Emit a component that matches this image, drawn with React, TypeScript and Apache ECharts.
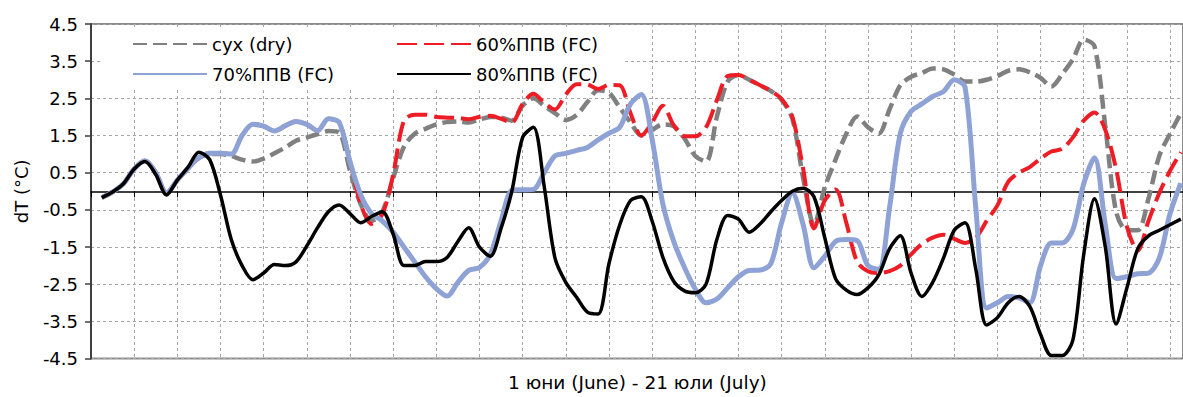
import React, { useEffect, useRef } from "react";
import * as echarts from "echarts";

const FONT = '"DejaVu Sans", "Liberation Sans", sans-serif';

const days = [
  0.5, 1, 1.5, 2, 2.5, 3, 3.5, 4, 4.5, 5, 5.5, 6, 6.5, 7, 7.5, 8, 8.5, 9, 9.5, 10,
  10.5, 11, 11.5, 12, 12.5, 13, 13.5, 14, 14.5, 15, 15.5, 16, 16.5, 17, 17.5, 18, 18.5, 19, 19.5, 20,
  20.5, 21, 21.5, 22, 22.5, 23, 23.5, 24, 24.5, 25, 25.5, 26, 26.5, 27, 27.5, 28, 28.5, 29, 29.5, 30,
  30.5, 31, 31.5, 32, 32.5, 33, 33.5, 34, 34.5, 35, 35.5, 36, 36.5, 37, 37.5, 38, 38.5, 39, 39.5, 40,
  40.5, 41, 41.5, 42, 42.5, 43, 43.5, 44, 44.5, 45, 45.5, 46, 46.5, 47, 47.5, 48, 48.5, 49, 49.5, 50,
  50.5,
];

const dry = [
  -0.17, -0.02, 0.2, 0.6, 0.82, 0.5, -0.05, 0.3, 0.62, 0.9, 1.0, 1.0, 0.95, 0.85, 0.8, 0.88, 1.02, 1.18, 1.36, 1.45,
  1.54, 1.62, 1.58, 0.55, -0.35, -0.8, -0.55, 0.35, 1.2, 1.55, 1.68, 1.8, 1.86, 1.88, 1.85, 1.93, 2.0, 1.98, 1.9, 2.3,
  2.5, 2.3, 2.1, 1.92, 2.05, 2.4, 2.72, 2.65, 2.25, 1.85, 1.5, 1.65, 1.8, 1.75, 1.42, 0.95, 0.8, 2.0, 2.95, 3.13,
  3.0, 2.85, 2.7, 2.46, 1.95, 0.35, -0.9, 0.1, 0.85, 1.55, 2.01, 1.72, 1.55, 2.2, 2.85, 3.08, 3.18, 3.3, 3.28, 3.14,
  2.95, 2.95, 3.0, 3.1, 3.24, 3.28, 3.2, 3.05, 2.82, 3.15, 3.55, 4.08, 3.9, 1.75, -0.55, -1.05, -1.05, -0.2, 0.95, 1.55,
  2.1,
];

const fc60 = [
  -0.17, -0.02, 0.2, 0.6, 0.82, 0.5, -0.05, 0.3, 0.62, 0.9, 1.02, 1.02, 1.0, 1.5, 1.8, 1.75, 1.62, 1.76, 1.88, 1.8,
  1.63, 1.95, 1.85, 0.8, -0.35, -0.88, -0.62, 0.45, 1.9, 2.06, 2.06, 2.0, 1.98, 1.97, 1.94, 2.0, 2.03, 1.95, 1.85, 2.35,
  2.62, 2.38, 2.2, 2.6, 2.88, 2.87, 2.75, 2.86, 2.85, 2.1, 1.5, 1.85, 2.3, 1.78, 1.48, 1.48, 1.72, 2.45, 3.1, 3.13,
  3.0, 2.85, 2.7, 2.48, 2.0, 0.6, -1.0, -0.25, 0.05, -0.85, -1.9, -2.15, -2.2, -2.15, -2.0, -1.7, -1.42, -1.25, -1.17, -1.28,
  -1.39, -1.25, -0.8, -0.38, 0.25, 0.5, 0.65, 0.88, 1.07, 1.14, 1.45, 1.9, 2.12, 1.65, 0.6, -0.95, -1.6, -0.8, -0.05, 0.55,
  1.05,
];

const fc70 = [
  -0.17, -0.02, 0.2, 0.6, 0.82, 0.5, -0.05, 0.3, 0.62, 0.9, 1.02, 1.02, 1.0, 1.5, 1.8, 1.75, 1.62, 1.76, 1.88, 1.8,
  1.63, 1.95, 1.85, 0.8, -0.1, -0.6, -0.8, -1.1, -1.5, -1.9, -2.3, -2.62, -2.82, -2.45, -2.13, -2.05, -1.7, -0.8, 0.02, 0.04,
  0.05, 0.5, 0.95, 1.02, 1.1, 1.18, 1.38, 1.56, 1.72, 2.35, 2.6, 1.4, -0.35, -1.35, -2.05, -2.63, -3.0, -2.9, -2.6, -2.3,
  -2.13, -2.12, -1.95, -0.85, -0.05, -0.9, -2.06, -1.75, -1.35, -1.3, -1.33, -2.0, -2.1, -0.45, 1.55, 2.15, 2.35, 2.55, 2.68, 3.0,
  2.8, -0.45, -3.14, -3.0, -2.83, -2.87, -3.0, -2.0, -1.39, -1.39, -1.03, 0.2, 0.9, -0.9, -2.35, -2.3, -2.22, -2.2, -1.8, -0.6,
  0.22,
];

const fc80 = [
  -0.17, -0.02, 0.2, 0.6, 0.8, 0.45, -0.1, 0.3, 0.65, 1.05, 0.85, -0.1, -1.3, -2.0, -2.38, -2.2, -1.97, -2.0, -1.9, -1.47,
  -0.98, -0.55, -0.37, -0.6, -0.85, -0.68, -0.55, -1.15, -2.0, -2.0, -1.89, -1.89, -1.78, -1.35, -0.98, -1.5, -1.75, -1.0, 0.0, 1.45,
  1.72, 0.13, -1.8, -2.45, -2.85, -3.25, -3.3, -1.95, -0.9, -0.25, -0.15, -0.8, -1.78, -2.42, -2.68, -2.73, -2.5, -1.3, -0.65, -0.75,
  -1.1, -0.88, -0.55, -0.25, 0.0, 0.08, -0.15, -1.25, -2.35, -2.66, -2.78, -2.6, -2.25, -1.55, -1.2, -2.2, -2.83, -2.45, -1.8, -1.05,
  -0.85, -2.1, -3.6, -3.4, -3.0, -2.83, -3.1, -3.85, -4.42, -4.42, -4.0, -1.7, -0.2, -1.5, -3.57, -2.6, -1.55, -1.2, -1.05, -0.9,
  -0.75,
];

const seriesNames = ["сух (dry)", "60%ППВ (FC)", "70%ППВ (FC)", "80%ППВ (FC)"];
const legendCol1 = ["сух (dry)", "70%ППВ (FC)"];
const legendCol2 = ["60%ППВ (FC)", "80%ППВ (FC)"];
const xTitle = "1 юни (June) - 21 юли (July)";
const yTitle = "dT (°C)";

function pairs(values: number[]) {
  return days.map((d, i) => [d, values[i]]);
}

function legendColumn(names: string[], left: number, padding: number[]) {
  return {
    z: 1,
    orient: "vertical",
    left,
    top: 29,
    padding,
    itemGap: 12,
    itemWidth: 74,
    itemHeight: 22,
    backgroundColor: "#ffffff",
    itemStyle: { opacity: 0 },
    data: names,
    textStyle: { fontFamily: FONT, fontSize: 18, color: "#000" },
  };
}

export default function App() {
  const ref = useRef<HTMLDivElement>(null);

  useEffect(() => {
    if (!ref.current) return;
    const chart = echarts.init(ref.current, undefined, { renderer: "svg" });
    const gridLine = { show: true, lineStyle: { color: "#a6a6a6", width: 1, type: [3, 3] as any } };
    chart.setOption({
      animation: false,
      textStyle: { fontFamily: FONT },
      grid: {
        left: 91,
        top: 24,
        right: -2,
        bottom: 38.5,
        show: true,
        borderColor: "#8c8c8c",
        borderWidth: 2,
        backgroundColor: "transparent",
      },
      legend: [
        legendColumn(legendCol1, 103, [6, 55, 6, 29]),
        legendColumn(legendCol2, 380, [6, 27, 6, 16]),
      ],
      xAxis: {
        type: "value",
        min: 0,
        max: 50.6,
        interval: 2,
        axisLine: { show: true, onZero: true, lineStyle: { color: "#000", width: 1.5 } },
        axisTick: { show: true, inside: false, length: 6, lineStyle: { color: "#000", width: 1 } },
        axisLabel: { show: false },
        splitLine: gridLine,
      },
      yAxis: {
        type: "value",
        min: -4.5,
        max: 4.5,
        interval: 1,
        name: yTitle,
        nameLocation: "middle",
        nameGap: 61,
        nameRotate: 90,
        nameTextStyle: { fontFamily: FONT, fontSize: 18, color: "#000" },
        axisLine: { show: true, lineStyle: { color: "#404040", width: 2 } },
        axisTick: { show: true, inside: false, length: 6, lineStyle: { color: "#404040", width: 1.5 } },
        axisLabel: {
          show: true,
          margin: 13,
          fontFamily: FONT,
          fontSize: 18,
          color: "#000",
          formatter: (v: number) => v.toFixed(1),
        },
        splitLine: gridLine,
      },
      graphic: [
        {
          type: "text",
          left: 508,
          top: 373,
          style: { text: xTitle, fontFamily: FONT, fontSize: 18.5, fill: "#000" },
        },
      ],
      series: [
        {
          name: seriesNames[0],
          type: "line",
          data: pairs(dry),
          symbol: "none",
          smooth: 0.3,
          z: 2,
          lineStyle: { color: "#808080", width: 4.5, type: [14, 6] as any },
          itemStyle: { color: "#808080" },
        },
        {
          name: seriesNames[1],
          type: "line",
          data: pairs(fc60),
          symbol: "none",
          smooth: 0.3,
          z: 3,
          lineStyle: { color: "#ee1c25", width: 4, type: [20, 7] as any },
          itemStyle: { color: "#ee1c25" },
        },
        {
          name: seriesNames[2],
          type: "line",
          data: pairs(fc70),
          symbol: "none",
          smooth: 0.3,
          z: 4,
          lineStyle: { color: "#8ea2d6", width: 5 },
          itemStyle: { color: "#8ea2d6" },
        },
        {
          name: seriesNames[3],
          type: "line",
          data: pairs(fc80),
          symbol: "none",
          smooth: 0.3,
          z: 5,
          lineStyle: { color: "#000000", width: 3.5 },
          itemStyle: { color: "#000000" },
        },
      ],
    });
    return () => chart.dispose();
  }, []);

  return (
    <div
      ref={ref}
      style={{ position: "fixed", left: 0, top: 0, width: 1183, height: 397, background: "#fff" }}
    />
  );
}
